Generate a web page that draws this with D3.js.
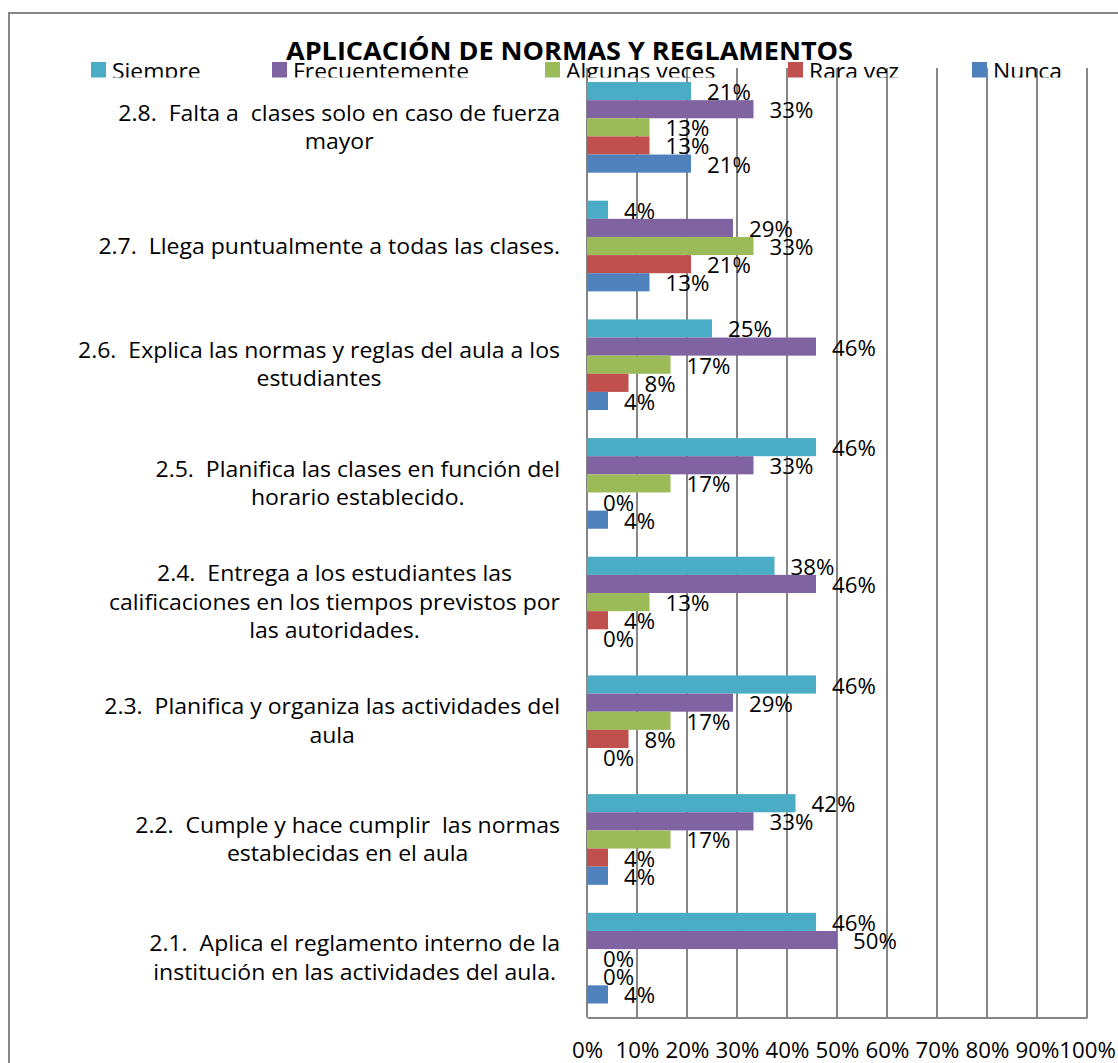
<!DOCTYPE html>
<html>
<head>
<meta charset="utf-8">
<script src="https://cdn.jsdelivr.net/npm/d3@7"></script>
<style>
  html, body { margin: 0; padding: 0; background: #fff; }
  text { font-family: "Open Sans", "Noto Sans", sans-serif; white-space: pre; }
</style>
</head>
<body>
<svg id="chart" width="1118" height="1063"></svg>
<script>
// ---- data ----
const title = "APLICACIÓN DE NORMAS Y REGLAMENTOS";
const seriesNames = ["Siempre", "Frecuentemente", "Algunas veces", "Rara vez", "Nunca"];
const seriesColors = ["#4BACC6", "#8064A2", "#9BBB59", "#C0504D", "#4F81BD"];
const categories = ["2.8", "2.7", "2.6", "2.5", "2.4", "2.3", "2.2", "2.1"];
const categoryLabels = [
  ["2.8.  Falta a  clases solo en caso de fuerza", "mayor"],
  ["2.7.  Llega puntualmente a todas las clases."],
  ["2.6.  Explica las normas y reglas del aula a los", "estudiantes"],
  ["2.5.  Planifica las clases en función del", "horario establecido."],
  ["2.4.  Entrega a los estudiantes las", "calificaciones en los tiempos previstos por", "las autoridades."],
  ["2.3.  Planifica y organiza las actividades del", "aula"],
  ["2.2.  Cumple y hace cumplir  las normas", "establecidas en el aula"],
  ["2.1.  Aplica el reglamento interno de la", "institución en las actividades del aula."]
];
// values in %, per category (same order as categories), per series
const siempre        = [20.8,  4.2, 25.0, 45.8, 37.5, 45.8, 41.7, 45.8];
const frecuentemente = [33.3, 29.2, 45.8, 33.3, 45.8, 29.2, 33.3, 50.0];
const algunasVeces   = [12.5, 33.3, 16.7, 16.7, 12.5, 16.7, 16.7,  0.0];
const raraVez        = [12.5, 20.8,  8.3,  0.0,  4.2,  8.3,  4.2,  0.0];
const nunca          = [20.8, 12.5,  4.2,  4.2,  0.0,  0.0,  4.2,  4.2];
const seriesValues = [siempre, frecuentemente, algunasVeces, raraVez, nunca];
const xTicks = [0, 10, 20, 30, 40, 50, 60, 70, 80, 90, 100];

// ---- layout ----
const svg = d3.select("#chart");
const plot = { left: 587, right: 1087, top: 68, bottom: 1017.5 };
const gridColor = "#868686";

// horizontally stretch a text element to mimic the original's wide glyphs
function stretch(sel, k) {
  sel.each(function() {
    const w = this.getComputedTextLength();
    d3.select(this).attr("textLength", w * k).attr("lengthAdjust", "spacingAndGlyphs");
  });
  return sel;
}

// outer border
svg.append("rect")
  .attr("x", 9).attr("y", 13).attr("width", 1300).attr("height", 1300)
  .attr("fill", "none").attr("stroke", gridColor).attr("stroke-width", 2);

const x = d3.scaleLinear().domain([0, 100]).range([plot.left, plot.right]);
const y = d3.scaleBand().domain(categories).range([plot.top, plot.bottom])
  .paddingInner(0.236).paddingOuter(0.118);
const ySub = d3.scaleBand().domain(seriesNames).range([0, y.bandwidth()]);

// gridlines
svg.append("g").selectAll("line").data(xTicks).join("line")
  .attr("x1", d => x(d)).attr("x2", d => x(d))
  .attr("y1", plot.top).attr("y2", plot.bottom)
  .attr("stroke", gridColor).attr("stroke-width", 2);

// bottom axis
const xAxis = d3.axisBottom(x).tickValues(xTicks).tickSize(0).tickPadding(0)
  .tickFormat(d => d + "%");
const ax = svg.append("g").attr("transform", `translate(0,${plot.bottom})`).call(xAxis);
ax.select(".domain").attr("stroke", gridColor).attr("stroke-width", 2);
ax.selectAll("text").attr("font-size", 21).attr("fill", "#000")
  .attr("dy", null).attr("y", 40.5).style("font-family", "'Open Sans'");
stretch(ax.selectAll("text"), 1.06);

// bars
const groups = svg.append("g").selectAll("g").data(categories).join("g")
  .attr("transform", d => `translate(0,${y(d)})`);

groups.each(function(cat, ci) {
  const g = d3.select(this);
  seriesNames.forEach((s, si) => {
    const v = seriesValues[si][ci];
    g.append("rect")
      .attr("x", x(0)).attr("y", ySub(s))
      .attr("width", x(v) - x(0)).attr("height", ySub.bandwidth())
      .attr("fill", seriesColors[si]);
  });
  seriesNames.forEach((s, si) => {
    const v = seriesValues[si][ci];
    const t = g.append("text")
      .attr("x", x(v) + 16)
      .attr("y", ySub(s) + ySub.bandwidth() / 2 + 9)
      .attr("font-size", 21).attr("fill", "#000")
      .text(Math.round(v) + "%");
    stretch(t, 1.06);
  });
});

// category labels (each line centred on the widest line, right edge at labelRight)
const lineH = 28.5;
const labelRight = 560;
const catFont = 21.5, catStretch = 1.07;
categories.forEach((cat, ci) => {
  const lines = categoryLabels[ci];
  const cy = y(cat) + y.bandwidth() / 2;
  const ts = lines.map((ln, li) => svg.append("text")
    .attr("font-size", catFont).attr("fill", "#000").attr("text-anchor", "middle")
    .attr("y", cy + (li - (lines.length - 1) / 2) * lineH + 7.5).text(ln));
  const widths = ts.map(t => t.node().getComputedTextLength() * catStretch);
  const maxW = d3.max(widths);
  ts.forEach((t, i) => t.attr("x", labelRight - maxW / 2)
    .attr("textLength", widths[i]).attr("lengthAdjust", "spacingAndGlyphs"));
});

// legend (clipped at bottom as in the original)
svg.append("clipPath").attr("id", "legclip").append("rect")
  .attr("x", 0).attr("y", 0).attr("width", 1118).attr("height", 77.5);
const legendX = [91, 272, 545, 788, 972];
const leg = svg.append("g").attr("clip-path", "url(#legclip)");
seriesNames.forEach((s, si) => {
  leg.append("rect").attr("x", legendX[si]).attr("y", 62)
    .attr("width", 15).attr("height", 16).attr("fill", seriesColors[si]);
  const t = leg.append("text").attr("x", legendX[si] + 21).attr("y", 79)
    .attr("font-size", 21).attr("fill", "#000").text(s);
  stretch(t, 1.09);
});

// title
svg.append("text").attr("x", 569.5).attr("y", 60)
  .attr("text-anchor", "middle").attr("font-size", 24.5).attr("font-weight", "bold")
  .attr("fill", "#000").attr("textLength", 567).attr("lengthAdjust", "spacingAndGlyphs")
  .text(title);
</script>
</body>
</html>
